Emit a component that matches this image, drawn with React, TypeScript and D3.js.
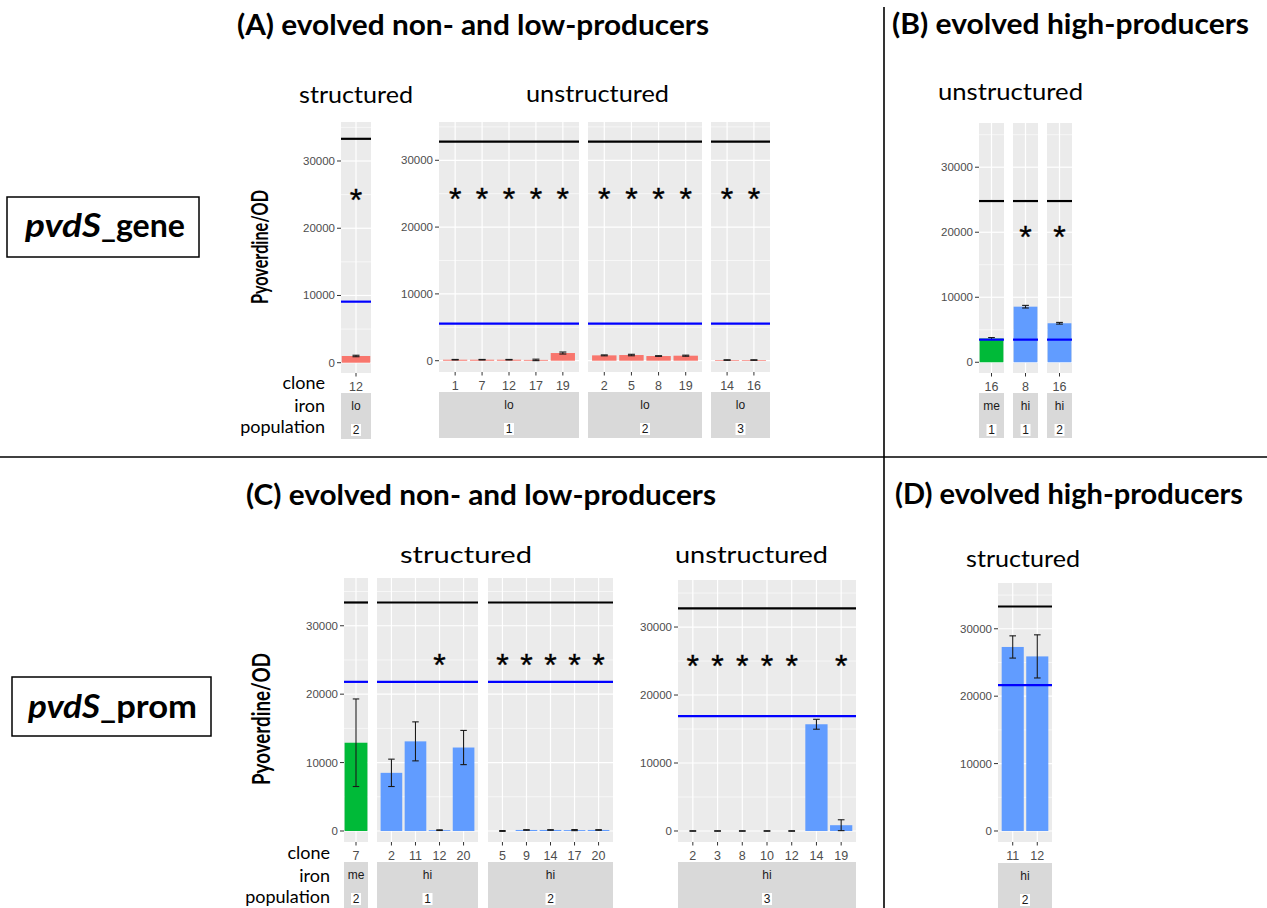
import React from "react";
import * as d3 from "d3";

// ---------------- DATA ----------------
const IRON_COLORS: Record<string, string> = { lo: "#F8766D", me: "#00BA38", hi: "#619CFF" };
const Y_TICKS = [0, 10000, 20000, 30000];
const Y_MINOR = [5000, 15000, 25000, 35000];

// (A) structured
const A_STR_IRON = ["lo"];
const A_STR_POP = ["2"];
const A_STR_CLONE = ["12"];
const A_STR_VALUE = [1000];
const A_STR_ERROR = [110];
const A_STR_STAR = [1];
const A_STR_LINES = [33300, 9080]; // black, blue

// (A) unstructured
const A_UNS_IRON = ["lo", "lo", "lo", "lo", "lo", "lo", "lo", "lo", "lo", "lo", "lo"];
const A_UNS_POP = ["1", "1", "1", "1", "1", "2", "2", "2", "2", "3", "3"];
const A_UNS_CLONE = ["1", "7", "12", "17", "19", "2", "5", "8", "19", "14", "16"];
const A_UNS_VALUE = [150, 150, 150, 120, 1150, 800, 850, 700, 750, 100, 100];
const A_UNS_ERROR = [40, 40, 40, 110, 150, 70, 110, 50, 80, 40, 40];
const A_UNS_STAR = [1, 1, 1, 1, 1, 1, 1, 1, 1, 1, 1];
const A_UNS_LINES = [32800, 5540];

// (B) unstructured
const B_IRON = ["me", "hi", "hi"];
const B_POP = ["1", "1", "2"];
const B_CLONE = ["16", "8", "16"];
const B_VALUE = [3650, 8550, 6000];
const B_ERROR = [150, 200, 130];
const B_STAR = [0, 1, 1];
const B_LINES = [24800, 3480];

// (C) structured
const C_STR_IRON = ["me", "hi", "hi", "hi", "hi", "hi", "hi", "hi", "hi", "hi"];
const C_STR_POP = ["2", "1", "1", "1", "1", "2", "2", "2", "2", "2"];
const C_STR_CLONE = ["7", "2", "11", "12", "20", "5", "9", "14", "17", "20"];
const C_STR_VALUE = [12900, 8500, 13100, 120, 12200, 0, 150, 150, 130, 150];
const C_STR_ERROR = [6400, 2000, 2850, 50, 2500, 60, 40, 40, 80, 40];
const C_STR_STAR = [0, 0, 0, 1, 0, 1, 1, 1, 1, 1];
const C_STR_LINES = [33400, 21800];

// (C) unstructured
const C_UNS_IRON = ["hi", "hi", "hi", "hi", "hi", "hi", "hi"];
const C_UNS_POP = ["3", "3", "3", "3", "3", "3", "3"];
const C_UNS_CLONE = ["2", "3", "8", "10", "12", "14", "19"];
const C_UNS_VALUE = [0, 0, 0, 0, 0, 15700, 850];
const C_UNS_ERROR = [40, 40, 40, 40, 40, 730, 800];
const C_UNS_STAR = [1, 1, 1, 1, 1, 0, 1];
const C_UNS_LINES = [32750, 16900];

// (D) structured
const D_IRON = ["hi", "hi"];
const D_POP = ["2", "2"];
const D_CLONE = ["11", "12"];
const D_VALUE = [27300, 25900];
const D_ERROR = [1650, 3200];
const D_STAR = [0, 0];
const D_LINES = [33300, 21650];

const STAR_LEVELS = { aStr: 25000, aUns: 25000, b: 20000, cStr: 25000, cUns: 25000, d: 25000 };

// ---------------- LAYOUT ----------------
type Cfg = {
  panels: number[][];
  top: number;
  bottom: number;
  domain: number[];
  stripTop: number;
  stripBottom: number;
};

const LAYOUT: Record<string, Cfg> = {
  aStr: { panels: [[341, 371]], top: 122, bottom: 373, domain: [-1530, 35800], stripTop: 393, stripBottom: 439 },
  aUns: { panels: [[439, 579], [588, 702], [711, 770]], top: 122, bottom: 372, domain: [-1690, 35730], stripTop: 392, stripBottom: 438 },
  b: { panels: [[979, 1004], [1013, 1038], [1047, 1072]], top: 123, bottom: 373, domain: [-1650, 36800], stripTop: 393, stripBottom: 438 },
  cStr: { panels: [[344, 368], [377, 478], [488, 613]], top: 578, bottom: 842, domain: [-1610, 36980], stripTop: 862, stripBottom: 912 },
  cUns: { panels: [[678, 856]], top: 580, bottom: 842, domain: [-1620, 36920], stripTop: 862, stripBottom: 912 },
  d: { panels: [[998, 1052]], top: 583, bottom: 842, domain: [-1634, 36790], stripTop: 863, stripBottom: 912 },
};

const CAL = "Lato, 'Open Sans', sans-serif";
const AX = "'Liberation Sans', Arial, sans-serif";
const STAR_SIZE = 32;

type BlockProps = {
  cfg: Cfg;
  iron: string[];
  pop: string[];
  clone: string[];
  value: number[];
  error: number[];
  star: number[];
  lines: number[];
  starLevel: number;
};

function Block({ cfg, iron, pop, clone, value, error, star, lines, starLevel }: BlockProps) {
  const y = d3.scaleLinear().domain(cfg.domain).range([cfg.bottom, cfg.top]);
  const idx = d3.range(clone.length);
  const groups = d3.groups(idx, (i) => `${iron[i]}|${pop[i]}`);
  const x0First = cfg.panels[0][0];
  return (
    <g>
      {Y_TICKS.map((t) => (
        <g key={"yt" + t}>
          <line x1={x0First - 4} x2={x0First} y1={y(t)} y2={y(t)} stroke="#333" strokeWidth={1} />
          <text x={x0First - 6} y={y(t)} dy="0.35em" textAnchor="end" fontFamily={AX} fontSize={11.5} fill="#4D4D4D">
            {t}
          </text>
        </g>
      ))}
      {groups.map(([key, ids], gi) => {
        const [px0, px1] = cfg.panels[gi];
        const single = ids.length === 1;
        const xs = d3
          .scaleBand<number>()
          .domain(ids)
          .range([px0, px1])
          .paddingInner(0)
          .paddingOuter(single ? 0 : 0.1);
        const step = xs.step();
        const bw = step * (single ? 0.95 : 0.9);
        const cap = Math.min(step * 0.27, 7);
        const cx = (i: number) => (xs(i) as number) + step / 2;
        const [ir, po] = key.split("|");
        return (
          <g key={key}>
            <rect x={px0} y={cfg.top} width={px1 - px0} height={cfg.bottom - cfg.top} fill="#EBEBEB" />
            {Y_MINOR.filter((t) => y(t) > cfg.top).map((t) => (
              <line key={"mn" + t} x1={px0} x2={px1} y1={y(t)} y2={y(t)} stroke="#fff" strokeWidth={0.6} />
            ))}
            {Y_TICKS.map((t) => (
              <line key={"mj" + t} x1={px0} x2={px1} y1={y(t)} y2={y(t)} stroke="#fff" strokeWidth={1.2} />
            ))}
            {ids.map((i) => (
              <line key={"vg" + i} x1={cx(i)} x2={cx(i)} y1={cfg.top} y2={cfg.bottom} stroke="#fff" strokeWidth={1.2} />
            ))}
            {ids.map((i) => (
              <rect
                key={"b" + i}
                x={cx(i) - bw / 2}
                width={bw}
                y={y(Math.max(0, value[i]))}
                height={Math.max(0, y(0) - y(value[i]))}
                fill={IRON_COLORS[iron[i]]}
              />
            ))}
            {ids.map((i) => {
              const lo = y(value[i] - error[i]);
              const hi = y(value[i] + error[i]);
              return (
                <g key={"e" + i} stroke="#1a1a1a" strokeWidth={1.1}>
                  <line x1={cx(i)} x2={cx(i)} y1={lo} y2={hi} />
                  <line x1={cx(i) - cap / 2} x2={cx(i) + cap / 2} y1={lo} y2={lo} />
                  <line x1={cx(i) - cap / 2} x2={cx(i) + cap / 2} y1={hi} y2={hi} />
                </g>
              );
            })}
            <line x1={px0} x2={px1} y1={y(lines[0])} y2={y(lines[0])} stroke="#000" strokeWidth={2.2} />
            <line x1={px0} x2={px1} y1={y(lines[1])} y2={y(lines[1])} stroke="#0000FF" strokeWidth={2.2} />
            {ids
              .filter((i) => star[i])
              .map((i) => (
                <text
                  key={"s" + i}
                  x={cx(i)}
                  y={y(starLevel) + STAR_SIZE * 0.5}
                  textAnchor="middle"
                  fontFamily={AX}
                  fontSize={STAR_SIZE}
                  fill="#000"
                  stroke="#000"
                  strokeWidth={0.4}
                >
                  *
                </text>
              ))}
            {ids.map((i) => (
              <g key={"xt" + i}>
                <line x1={cx(i)} x2={cx(i)} y1={cfg.bottom} y2={cfg.bottom + 3.5} stroke="#333" />
                <text x={cx(i)} y={cfg.bottom + 18} textAnchor="middle" fontFamily={AX} fontSize={12.5} fill="#4D4D4D">
                  {clone[i]}
                </text>
              </g>
            ))}
            <rect x={px0} y={cfg.stripTop} width={px1 - px0} height={cfg.stripBottom - cfg.stripTop} fill="#D9D9D9" />
            <text x={(px0 + px1) / 2} y={cfg.stripTop + 13} dy="0.35em" textAnchor="middle" fontFamily={AX} fontSize={12} fill="#1A1A1A">
              {ir}
            </text>
            <rect x={(px0 + px1) / 2 - 5} y={cfg.stripTop + 31} width={10} height={12} fill="#fff" />
            <text x={(px0 + px1) / 2} y={cfg.stripTop + 37} dy="0.36em" textAnchor="middle" fontFamily={AX} fontSize={12} fill="#1A1A1A">
              {po}
            </text>
          </g>
        );
      })}
    </g>
  );
}

function Title({ x0, x1, y, size, bold, children }: any) {
  return (
    <text
      x={x0}
      y={y}
      fontFamily={CAL}
      fontSize={size}
      fontWeight={bold ? 700 : 400}
      textLength={x1 - x0}
      lengthAdjust="spacingAndGlyphs"
      fill="#000"
    >
      {children}
    </text>
  );
}

export default function App() {
  return (
    <svg width={1267} height={908} style={{ position: "absolute", left: 0, top: 0, background: "#fff" }}>
      <rect width={1267} height={908} fill="#fff" />
      <line x1={884} x2={884} y1={7} y2={908} stroke="#000" strokeWidth={1.6} />
      <line x1={0} x2={1267} y1={457} y2={457} stroke="#000" strokeWidth={1.6} />

      <Title x0={237} x1={709} y={35} size={28} bold>(A) evolved non- and low-producers</Title>
      <Title x0={892} x1={1249} y={34} size={28} bold>(B) evolved high-producers</Title>
      <Title x0={246} x1={716} y={505} size={28} bold>(C) evolved non- and low-producers</Title>
      <Title x0={895} x1={1243} y={504} size={28} bold>(D) evolved high-producers</Title>

      <Title x0={299} x1={413} y={103} size={24}>structured</Title>
      <Title x0={526} x1={669} y={102} size={24}>unstructured</Title>
      <Title x0={938} x1={1083} y={100} size={24}>unstructured</Title>
      <Title x0={400} x1={532} y={563} size={24}>structured</Title>
      <Title x0={675} x1={828} y={563} size={24}>unstructured</Title>
      <Title x0={966} x1={1080} y={567} size={24}>structured</Title>

      <rect x={7} y={197} width={192} height={60} fill="none" stroke="#000" strokeWidth={1.5} />
      <text x={25} y={237} fontFamily={CAL} fontSize={32} fontWeight={700} fontStyle="italic" textLength={76} lengthAdjust="spacingAndGlyphs">
        pvdS
      </text>
      <text x={101} y={237} fontFamily={CAL} fontSize={32} fontWeight={700} textLength={84} lengthAdjust="spacingAndGlyphs">
        _gene
      </text>
      <rect x={12} y={677} width={199} height={59} fill="none" stroke="#000" strokeWidth={1.5} />
      <text x={28} y={718} fontFamily={CAL} fontSize={32} fontWeight={700} fontStyle="italic" textLength={72} lengthAdjust="spacingAndGlyphs">
        pvdS
      </text>
      <text x={100} y={718} fontFamily={CAL} fontSize={32} fontWeight={700} textLength={97} lengthAdjust="spacingAndGlyphs">
        _prom
      </text>

      <text transform="translate(268,247) rotate(-90)" textAnchor="middle" fontFamily={CAL} fontSize={22} fontWeight={700} textLength={114} lengthAdjust="spacingAndGlyphs">
        Pyoverdine/OD
      </text>
      <text transform="translate(270,719) rotate(-90)" textAnchor="middle" fontFamily={CAL} fontSize={24} fontWeight={700} textLength={132} lengthAdjust="spacingAndGlyphs">
        Pyoverdine/OD
      </text>

      {[
        ["clone", 389, 325],
        ["iron", 412, 325],
        ["population", 433, 325],
        ["clone", 859, 330],
        ["iron", 882, 330],
        ["population", 903, 330],
      ].map(([t, yy, xx], k) => (
        <text key={k} x={xx as number} y={yy as number} textAnchor="end" fontFamily={CAL} fontSize={18} fill="#000">
          {t}
        </text>
      ))}

      <Block cfg={LAYOUT.aStr} iron={A_STR_IRON} pop={A_STR_POP} clone={A_STR_CLONE} value={A_STR_VALUE} error={A_STR_ERROR} star={A_STR_STAR} lines={A_STR_LINES} starLevel={STAR_LEVELS.aStr} />
      <Block cfg={LAYOUT.aUns} iron={A_UNS_IRON} pop={A_UNS_POP} clone={A_UNS_CLONE} value={A_UNS_VALUE} error={A_UNS_ERROR} star={A_UNS_STAR} lines={A_UNS_LINES} starLevel={STAR_LEVELS.aUns} />
      <Block cfg={LAYOUT.b} iron={B_IRON} pop={B_POP} clone={B_CLONE} value={B_VALUE} error={B_ERROR} star={B_STAR} lines={B_LINES} starLevel={STAR_LEVELS.b} />
      <Block cfg={LAYOUT.cStr} iron={C_STR_IRON} pop={C_STR_POP} clone={C_STR_CLONE} value={C_STR_VALUE} error={C_STR_ERROR} star={C_STR_STAR} lines={C_STR_LINES} starLevel={STAR_LEVELS.cStr} />
      <Block cfg={LAYOUT.cUns} iron={C_UNS_IRON} pop={C_UNS_POP} clone={C_UNS_CLONE} value={C_UNS_VALUE} error={C_UNS_ERROR} star={C_UNS_STAR} lines={C_UNS_LINES} starLevel={STAR_LEVELS.cUns} />
      <Block cfg={LAYOUT.d} iron={D_IRON} pop={D_POP} clone={D_CLONE} value={D_VALUE} error={D_ERROR} star={D_STAR} lines={D_LINES} starLevel={STAR_LEVELS.d} />
    </svg>
  );
}
